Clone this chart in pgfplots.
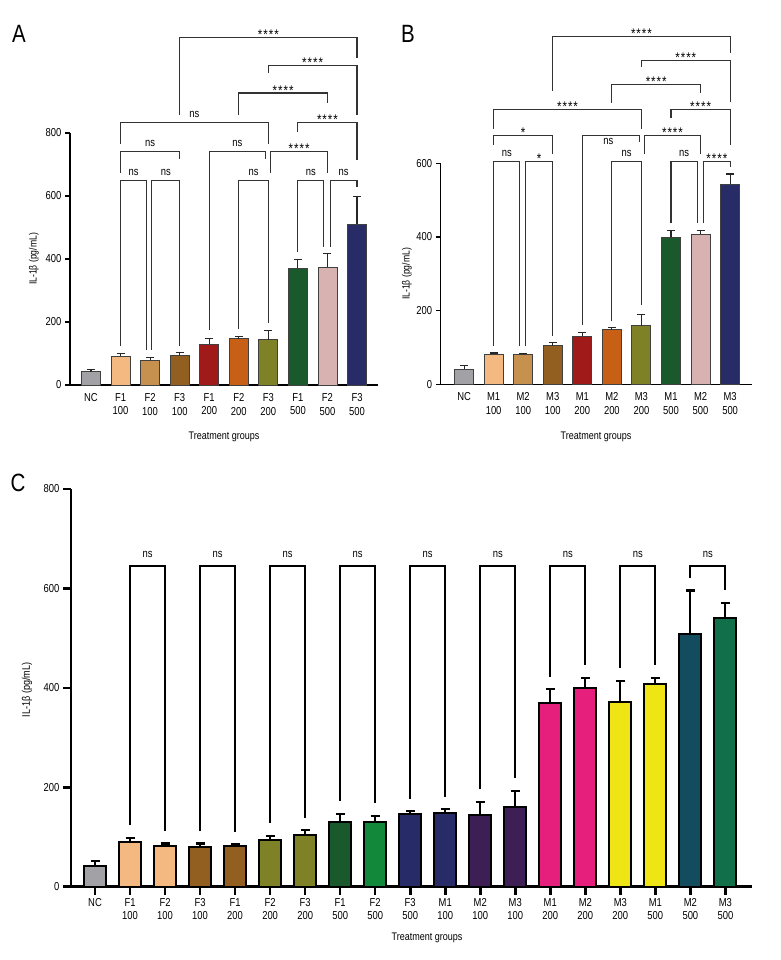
\documentclass[border=0pt]{standalone}
\usepackage{pgfplots}
\pgfplotsset{compat=1.18}
\usetikzlibrary{calc}
\usepackage{fontspec}
\setmainfont{Liberation Sans}[FakeStretch=0.82]

\definecolor{cgray}{HTML}{A2A2A6}
\definecolor{lorange}{HTML}{F3B981}
\definecolor{ctan}{HTML}{C6914F}
\definecolor{cbrown}{HTML}{925F20}
\definecolor{cred}{HTML}{A11A1A}
\definecolor{corange}{HTML}{C75F17}
\definecolor{colive}{HTML}{7E8126}
\definecolor{dgreen}{HTML}{19592B}
\definecolor{pinkb}{HTML}{D8B2B0}
\definecolor{navy}{HTML}{272C68}
\definecolor{green2}{HTML}{12893A}
\definecolor{cpurple}{HTML}{3E1F55}
\definecolor{cpink}{HTML}{E61F7C}
\definecolor{cyellow}{HTML}{EFE514}
\definecolor{teal2}{HTML}{134C5F}
\definecolor{green3}{HTML}{117049}

\def\nsraise{5pt}
\newcommand{\ns}{\raisebox{\nsraise}{ns}}
\newcommand{\st}{\raisebox{-2pt}{\fontsize{14}{14}\selectfont*\kern1pt*\kern1pt*\kern1pt*}}
\newcommand{\sone}{\raisebox{-2pt}{\fontsize{14}{14}\selectfont*}}

\pgfplotsset{
  panel/.style={scale only axis, anchor=south west, ymin=0, clip=false,
    axis x line=bottom, axis y line=left, axis line style={-},
    tick align=outside,
    /pgf/number format/assume math mode=true,
    tick label style={font=\fontsize{11.5}{13.5}\selectfont},
    xticklabel style={align=center},
  },
  barAB/.style={ybar, bar shift=0pt, bar width=19pt, draw=black!75, line width=0.9pt,
    error bars/y dir=plus, error bars/y explicit,
    error bars/error bar style={line width=1.1pt, draw=black!85, solid},
    error bars/error mark options={rotate=90, line width=1.1pt, draw=black!85, mark size=4pt}},
  barC/.style={ybar, bar shift=0pt, bar width=22pt, draw=black, line width=2pt,
    error bars/y dir=plus, error bars/y explicit,
    error bars/error bar style={line width=2.2pt, draw=black, solid},
    error bars/error mark options={rotate=90, line width=2.2pt, draw=black, mark size=4.5pt}},
}
\tikzset{brkAB/.style={line width=1.1pt, black!80},
         brkC/.style={line width=2pt, black},
         lab/.style={anchor=base, inner sep=0pt, font=\fontsize{11.5}{13}\selectfont}}

% bar: x, y, err, colour, style
\newcommand{\pbar}[5]{\addplot[fill=#4, #5] coordinates {(#1,#2) +- (0,#3)};}
% bracket: [style] x1, x2, y horizontal, leg1 end, leg2 end, label
\newcommand{\brk}[7][brkAB]{%
  \draw[#1] (axis cs:#2,#5) -- (axis cs:#2,#4) -- (axis cs:#3,#4) -- (axis cs:#3,#6);
  \node[lab] at ($(axis cs:#2,#4)!0.5!(axis cs:#3,#4)$) {#7};}

\begin{document}
\begin{tikzpicture}
\path[use as bounding box] (0,0) rectangle (780pt,-960pt);

% ---------------- Panel A ----------------
\begin{axis}[panel, at={(70pt,-385pt)}, width=308pt, height=252pt,
  xmin=-0.71, xmax=9.71, ymax=800, ytick={0,200,...,800},
  xtick={0,...,9},
  xticklabels={NC,{F1\\100},{F2\\100},{F3\\100},{F1\\200},{F2\\200},{F3\\200},{F1\\500},{F2\\500},{F3\\500}},
  axis line style={line width=1.3pt},
  x tick style={draw=none}, y tick style={line width=1.3pt, black},
  major tick length=5pt]
\pbar{0}{42}{8}{cgray}{barAB}
\pbar{1}{91}{8}{lorange}{barAB}
\pbar{2}{79}{9}{ctan}{barAB}
\pbar{3}{94}{9}{cbrown}{barAB}
\pbar{4}{130}{18}{cred}{barAB}
\pbar{5}{147}{6}{corange}{barAB}
\pbar{6}{144}{28}{colive}{barAB}
\pbar{7}{370}{28}{dgreen}{barAB}
\pbar{8}{374}{43}{pinkb}{barAB}
\pbar{9}{511}{87}{navy}{barAB}
\brk{3}{9}{1102}{857}{1038}{\st}
\brk{6}{9}{1014}{990}{857}{\st}
\brk{5}{8}{927}{857}{895}{\st}
\brk{7}{9}{833}{804}{714}{\st}
\brk{1}{6}{833}{765}{765}{\ns}
\brk{1}{3}{741}{673}{718}{\ns}
\brk{4}{5.91}{741}{175}{718}{\ns}
\brk{6.08}{8}{741}{673}{673}{\st}
\brk{1}{1.89}{648}{124}{111}{\ns}
\brk{2.06}{3}{648}{111}{125}{\ns}
\brk{5}{6}{648}{178}{196}{\ns}
\brk{7}{7.88}{648}{423}{439}{\ns}
\brk{8.09}{9}{648}{439}{629}{\ns}
\end{axis}

% ---------------- Panel B ----------------
\begin{axis}[panel, at={(440.7pt,-384.3pt)}, width=311pt, height=221pt,
  xmin=-0.79, xmax=9.73, ymax=600, ytick={0,200,...,600},
  xtick={0,...,9},
  xticklabels={NC,{M1\\100},{M2\\100},{M3\\100},{M1\\200},{M2\\200},{M3\\200},{M1\\500},{M2\\500},{M3\\500}},
  axis line style={line width=1.3pt},
  x tick style={draw=none}, y tick style={line width=1.3pt, black},
  major tick length=5pt]
\pbar{0}{41}{10}{cgray}{barAB}
\pbar{1}{82}{3}{lorange}{barAB}
\pbar{2}{81}{2}{ctan}{barAB}
\pbar{3}{105}{9}{cbrown}{barAB}
\pbar{4}{130}{11}{cred}{barAB}
\pbar{5}{148}{6}{corange}{barAB}
\pbar{6}{159}{30}{colive}{barAB}
\pbar{7}{399}{19}{dgreen}{barAB}
\pbar{8}{408}{10}{pinkb}{barAB}
\pbar{9}{543}{28}{navy}{barAB}
\brk{3}{9}{944}{797}{899}{\st}
\brk{6}{9}{880}{862}{767}{\st}
\brk{5}{8}{814}{764}{792}{\st}
\brk{1}{6}{746}{694}{694}{\st}
\brk{7}{9}{746}{723}{651}{\st}
\brk{1}{3}{676}{651}{626}{\sone}
\brk{4}{5.93}{676}{162}{658}{}
\node[lab] at (axis cs:4.88,651) {ns};
\brk{6.1}{8}{676}{626}{626}{\st}
\brk{1}{1.89}{606}{105}{103}{\ns}
\brk{2.07}{3}{606}{103}{130}{\sone}
\brk{5}{6}{606}{171}{216}{\ns}
\brk{7}{7.89}{606}{437}{437}{\ns}
\brk{8.1}{9}{606}{437}{589}{\st}
\end{axis}

% ---------------- Panel C ----------------
\def\nsraise{9pt}
\begin{axis}[panel, at={(71pt,-886.7pt)}, width=681pt, height=397.7pt,
  xmin=-0.686, xmax=18.76, ymax=800, ytick={0,200,...,800},
  xtick={0,...,18},
  xticklabels={NC,{F1\\100},{F2\\100},{F3\\100},{F1\\200},{F2\\200},{F3\\200},{F1\\500},{F2\\500},{F3\\500},{M1\\100},{M2\\100},{M3\\100},{M1\\200},{M2\\200},{M3\\200},{M1\\500},{M2\\500},{M3\\500}},
  axis line style={line width=2.6pt},
  tick style={line width=2.6pt, black},
  major tick length=8pt]
\pbar{0}{41.5}{10.5}{cgray}{barC}
\pbar{1}{90.5}{8}{lorange}{barC}
\pbar{2}{82}{5}{lorange}{barC}
\pbar{3}{79}{8}{cbrown}{barC}
\pbar{4}{82}{3}{cbrown}{barC}
\pbar{5}{93}{9.6}{colive}{barC}
\pbar{6}{104}{10}{colive}{barC}
\pbar{7}{129.6}{17.4}{dgreen}{barC}
\pbar{8}{129.6}{13.4}{green2}{barC}
\pbar{9}{145.6}{6.4}{navy}{barC}
\pbar{10}{149}{7}{navy}{barC}
\pbar{11}{143.6}{27.4}{cpurple}{barC}
\pbar{12}{160}{32.5}{cpurple}{barC}
\pbar{13}{369.6}{27.4}{cpink}{barC}
\pbar{14}{399}{21.5}{cpink}{barC}
\pbar{15}{371}{43}{cyellow}{barC}
\pbar{16}{408}{12.5}{cyellow}{barC}
\pbar{17}{509}{87}{teal2}{barC}
\pbar{18}{541}{30}{green3}{barC}
\brk[brkC]{1}{2}{645}{124}{112}{\ns}
\brk[brkC]{3}{4}{645}{112}{110}{\ns}
\brk[brkC]{5}{6}{645}{128}{139}{\ns}
\brk[brkC]{7}{8}{645}{172}{168}{\ns}
\brk[brkC]{9}{10}{645}{177}{181}{\ns}
\brk[brkC]{11}{12}{645}{196}{218}{\ns}
\brk[brkC]{13}{14}{645}{422}{446}{\ns}
\brk[brkC]{15}{16}{645}{439}{446}{\ns}
\brk[brkC]{17}{18}{645}{621}{596}{\ns}
\draw[line width=2.6pt] (axis cs:-0.686,0) -- ++(-11pt,0);
\end{axis}

% ---------------- texts ----------------
\node[font=\fontsize{25}{25}\selectfont] at (19pt,-34pt) {A};
\node[font=\fontsize{25}{25}\selectfont] at (408pt,-34pt) {B};
\node[font=\fontsize{25}{25}\selectfont] at (18pt,-483pt) {C};
\node[rotate=90, font=\fontsize{10.5}{12}\selectfont] at (34pt,-259pt) {IL-1β (pg/mL)};
\node[rotate=90, font=\fontsize{10.5}{12}\selectfont] at (407pt,-274pt) {IL-1β (pg/mL)};
\node[rotate=90, font=\fontsize{11}{12}\selectfont] at (27pt,-690pt) {IL-1β (pg/mL)};
\node[font=\fontsize{11}{12}\selectfont] at (224pt,-437pt) {Treatment groups};
\node[font=\fontsize{11}{12}\selectfont] at (596pt,-437pt) {Treatment groups};
\node[font=\fontsize{11}{12}\selectfont] at (427pt,-938pt) {Treatment groups};
\end{tikzpicture}
\end{document}
